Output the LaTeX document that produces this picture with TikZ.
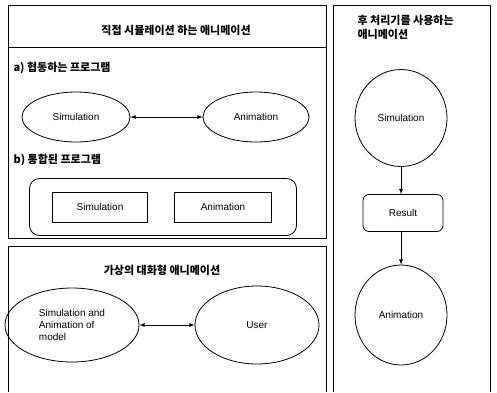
\documentclass[tikz,border=0pt]{standalone}
\usepackage{fontspec}
\setmainfont{Liberation Sans}
\newfontfamily\kr{Noto Sans CJK KR}
\usepackage{tikz}
\usetikzlibrary{positioning,shapes.geometric}

\begin{document}
\begin{tikzpicture}[
    x=1pt, y=-1pt,
    font=\fontsize{10}{12}\selectfont,
    panel/.style={draw, line width=0.9pt},
    oval/.style={ellipse, draw, thick, inner sep=0pt},
    block/.style={rectangle, draw, thick, inner sep=0pt},
    title/.style={font=\kr\bfseries\fontsize{11}{14}\selectfont},
    arrow/.style={-latex, thick},
    dblarrow/.style={latex-latex, thick}
]
    \useasboundingbox (0,0) rectangle (497,392);
    % panels
    \draw [panel] (8,5) rectangle (326,238);
    \draw [panel] (8,47) -- (326,47);
    \draw [panel] (8,392) -- (8,246) -- (326,246) -- (326,392);
    \draw [panel] (333,392) -- (333,5) -- (490,5) -- (490,392);

    % direct simulation
    \node (titleA) [title] at (176,30) {직접 시뮬레이션 하는 애니메이션};
    \node (partA) [title, anchor=west] at (10,68) {a) 협동하는 프로그램};
    \node (simA) [oval, minimum width=108, minimum height=50] at (76,117) {Simulation};
    \node (aniA) [oval, minimum width=106, minimum height=50] at (256,117) {Animation};
    \draw [dblarrow] (simA) -- (aniA);
    \node (partB) [title, anchor=west] at (10,160) {b) 통합된 프로그램};
    \node (frameB) [block, rounded corners=10pt, minimum width=267, minimum height=57] at (163,207) {};
    \node (simB) [block, minimum width=95, minimum height=30] at (100,207) {Simulation};
    \node (aniB) [block, minimum width=97, minimum height=30] at (223,207) {Animation};

    % virtual interactive
    \node (titleB) [title] at (162,270) {가상의 대화형 애니메이션};
    \node (model) [oval, minimum width=134, minimum height=74, align=left] at (72,325) {Simulation and\\Animation of\\model};
    \node (user) [oval, minimum width=124, minimum height=78] at (257,325) {User};
    \draw [dblarrow] (model) -- (user);

    % post processor
    \node (titleC) [title, anchor=north west, align=left] at (354,12) {후 처리기를 사용하는\\애니메이션};
    \node (simC) [oval, minimum width=92, minimum height=97] at (401,118) {Simulation};
    \node (result) [block, rounded corners=6pt, minimum width=80, minimum height=37] at (403,213) {Result};
    \node (aniC) [oval, minimum width=92, minimum height=100] at (401,315) {Animation};
    \draw [arrow] (simC) -- (simC |- result.north);
    \draw [arrow] (result.south -| aniC) -- (aniC);
\end{tikzpicture}
\end{document}
